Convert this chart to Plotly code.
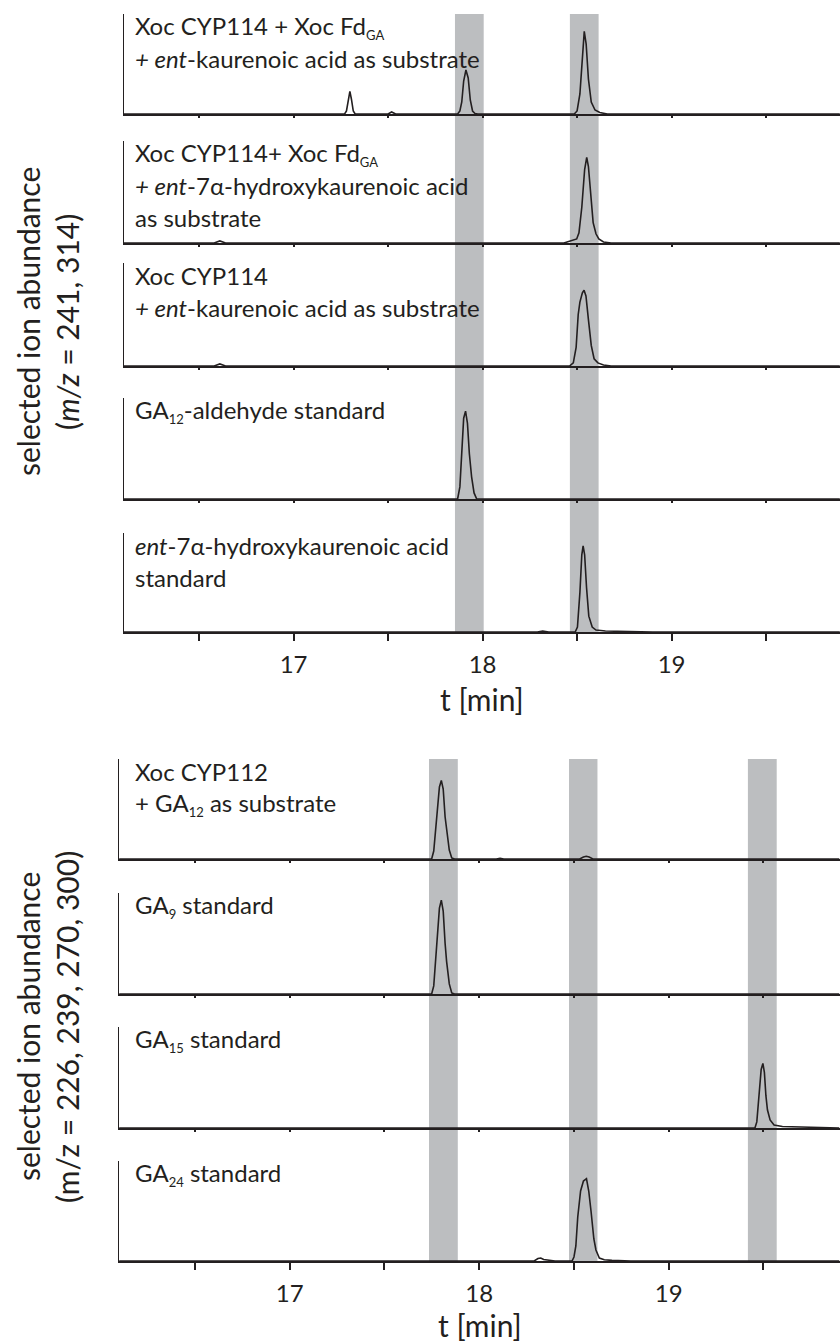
import plotly.graph_objects as go

# ---------------- data ----------------
SUB_OPEN = "<sub><span style='font-size:13px'>"
SUB_CLOSE = "</span></sub>"


def sub(s):
    return SUB_OPEN + s + SUB_CLOSE


# top chart: retention time (min) / relative abundance (selected ions m/z 241, 314)
top_labels = [
    ["Xoc CYP114 + Xoc Fd" + sub("GA"), "<i>+ ent</i>-kaurenoic acid as substrate"],
    ["Xoc CYP114+ Xoc Fd" + sub("GA"), "<i>+ ent</i>-7α-hydroxykaurenoic acid", "as substrate"],
    ["Xoc CYP114", "<i>+ ent</i>-kaurenoic acid as substrate"],
    ["GA" + sub("12") + "-aldehyde standard"],
    ["<i>ent</i>-7α-hydroxykaurenoic acid", "standard"],
]
t_a1 = [16.10, 17.0, 17.27, 17.28, 17.29, 17.298, 17.306, 17.316, 17.326, 17.50, 17.519, 17.54,
        17.868, 17.88, 17.89, 17.90, 17.912, 17.924, 17.935, 17.947, 17.96, 17.975,
        18.485, 18.50, 18.515, 18.528, 18.538, 18.548, 18.56, 18.575, 18.595, 18.62, 18.66, 19.0, 19.89]
y_a1 = [0, 0, 0, 3, 15, 22.6, 15, 3, 0, 0, 2, 0,
        0, 3, 12, 33, 44, 36, 14, 3, 0.5, 0,
        0, 3, 20, 62, 82.6, 70, 35, 12, 4, 1.5, 0, 0, 0]
t_a2 = [16.10, 16.58, 16.61, 16.64, 18.43, 18.46, 18.498, 18.51, 18.525, 18.54, 18.551, 18.56,
        18.572, 18.585, 18.60, 18.615, 18.64, 18.68, 19.89]
y_a2 = [0, 0, 2, 0, 0, 1.5, 4, 10, 35, 72, 84, 75, 45, 20, 9, 4, 1, 0, 0]
t_a3 = [16.10, 16.58, 16.61, 16.64, 18.46, 18.48, 18.495, 18.506, 18.515, 18.528, 18.537, 18.547,
        18.56, 18.575, 18.59, 18.61, 18.64, 18.68, 19.89]
y_a3 = [0, 0, 2, 0, 0, 3, 18, 50, 62, 71, 73.5, 68, 45, 20, 7, 3, 1, 0, 0]
t_a4 = [16.10, 17.868, 17.88, 17.889, 17.90, 17.91, 17.92, 17.93, 17.942, 17.955, 17.969, 19.89]
y_a4 = [0, 0, 12, 48, 80, 87, 75, 45, 22, 6, 0, 0]
t_a5 = [16.10, 18.29, 18.318, 18.35, 18.49, 18.502, 18.515, 18.525, 18.532, 18.54, 18.55, 18.562,
        18.58, 18.60, 18.65, 18.75, 18.9, 19.89]
y_a5 = [0, 0, 1, 0, 0, 5, 40, 78, 87, 78, 45, 16, 5, 2, 1, 0.5, 0, 0]
top_t = [t_a1, t_a2, t_a3, t_a4, t_a5]
top_y = [y_a1, y_a2, y_a3, y_a4, y_a5]
top_bands = [(17.854, 18.006), (18.462, 18.614)]

# bottom chart: selected ions m/z 226, 239, 270, 300
bot_labels = [
    ["Xoc CYP112", "+ GA" + sub("12") + " as substrate"],
    ["GA" + sub("9") + " standard"],
    ["GA" + sub("15") + " standard"],
    ["GA" + sub("24") + " standard"],
]
t_b1 = [16.10, 17.749, 17.76, 17.775, 17.79, 17.80, 17.81, 17.82, 17.828, 17.842, 17.855, 17.87,
        18.09, 18.11, 18.13, 18.53, 18.55, 18.565, 18.58, 18.60, 19.90]
y_b1 = [0, 0, 8, 39, 72, 78.6, 70, 42, 29, 9, 1, 0,
        0, 0.6, 0, 0, 2, 2.7, 2, 0, 0]
t_b2 = [16.10, 17.749, 17.76, 17.775, 17.79, 17.80, 17.81, 17.82, 17.828, 17.842, 17.855, 17.87, 19.90]
y_b2 = [0, 0, 8, 42, 85, 93, 82, 50, 32, 10, 1, 0, 0]
t_b3 = [16.10, 19.455, 19.465, 19.477, 19.488, 19.497, 19.505, 19.513, 19.521, 19.535, 19.556,
        19.60, 19.70, 19.767, 19.78, 19.90]
y_b3 = [0, 0, 6, 34, 58, 64, 55, 32, 18, 8, 3, 1.5, 1, 0.8, 0, 0]
t_b4 = [16.10, 18.29, 18.31, 18.325, 18.34, 18.37, 18.40, 18.49, 18.50, 18.51, 18.52, 18.535, 18.55,
        18.566, 18.578, 18.59, 18.605, 18.616, 18.634, 18.66, 18.70, 18.80, 19.90]
y_b4 = [0, 0, 2.5, 3, 1.5, 0.5, 0, 0, 4, 15, 44, 70, 80, 82.3, 70, 50, 22, 11, 3, 1.2, 0.6, 0, 0]
bot_t = [t_b1, t_b2, t_b3, t_b4]
bot_y = [y_b1, y_b2, y_b3, y_b4]
bot_bands = [(17.735, 17.887), (18.474, 18.624), (19.418, 19.570)]

major_ticks = [17, 18, 19]
major_text = ["17", "18", "19"]
minor_ticks = [16.5, 17.5, 18.5, 19.5]

# ---------------- layout constants ----------------
W, H = 840, 1342
FONT = "Lato"
INK = "#231f20"
BAND = "#bcbec0"
LAB = 24
TICK = 24
TITLE = 30

top_px = [(14, 114), (141, 243), (263, 366), (398, 499), (533, 632)]
bot_px = [(759, 859), (893, 994), (1027, 1128), (1161, 1261)]
top_x = dict(range=[16.103, 19.891], left=124)
bot_x = dict(range=[16.099, 19.904], left=119)


def py(px):
    return 1 - px / H


fig = go.Figure()
layout = dict(width=W, height=H, margin=dict(l=0, r=0, t=0, b=0),
              paper_bgcolor="white", plot_bgcolor="rgba(0,0,0,0)",
              showlegend=False, font=dict(family=FONT, color=INK, size=LAB))
annotations = []
shapes = []

panels = []
for i, (tp, bp) in enumerate(top_px):
    panels.append(dict(t=top_t[i], y=top_y[i], px=(tp, bp), xs=top_x,
                       last=(i == len(top_px) - 1), labels=top_labels[i]))
for i, (tp, bp) in enumerate(bot_px):
    panels.append(dict(t=bot_t[i], y=bot_y[i], px=(tp, bp), xs=bot_x,
                       last=(i == len(bot_px) - 1), labels=bot_labels[i]))

for k, p in enumerate(panels, start=1):
    xa = "x" if k == 1 else f"x{k}"
    ya = "y" if k == 1 else f"y{k}"
    fig.add_trace(go.Scatter(x=p["t"], y=p["y"], mode="lines", xaxis=xa, yaxis=ya,
                             line=dict(color=INK, width=1.6), hoverinfo="skip"))
    tp, bp = p["px"]
    xs = p["xs"]
    tl = 7 if p["last"] else 2
    layout["xaxis" if k == 1 else f"xaxis{k}"] = dict(
        domain=[xs["left"] / W, 1], range=xs["range"], anchor=ya,
        showline=True, linecolor=INK, linewidth=1.6, showgrid=False, zeroline=False,
        tickmode="array", tickvals=major_ticks, ticktext=major_text,
        ticks="outside", ticklen=tl, tickwidth=1.5, tickcolor=INK,
        minor=dict(tickmode="array", tickvals=minor_ticks, ticks="outside", ticklen=tl,
                   tickwidth=1.5, tickcolor=INK, showgrid=False),
        showticklabels=p["last"], tickfont=dict(family=FONT, size=TICK, color=INK),
        ticklabelstandoff=3, fixedrange=True)
    layout["yaxis" if k == 1 else f"yaxis{k}"] = dict(
        domain=[py(bp), py(tp)], range=[0, 100], anchor=xa,
        showline=True, linecolor=INK, linewidth=1.2, showgrid=False, zeroline=False,
        showticklabels=False, ticks="", fixedrange=True)
    for j, line in enumerate(p["labels"]):
        base = tp + 21.5 + 32 * j
        shift = 1.0 if "<sub>" in line else 0
        annotations.append(dict(text=line, xref="paper", yref="paper", x=133 / W,
                                y=py(base - 0.387 * LAB + shift), xanchor="left", yanchor="middle",
                                showarrow=False, font=dict(family=FONT, size=LAB, color=INK)))

# shaded retention windows
for a, b in top_bands:
    shapes.append(dict(type="rect", xref="x", yref="paper", x0=a, x1=b,
                       y0=py(top_px[-1][1]), y1=py(top_px[0][0]),
                       fillcolor=BAND, line=dict(width=0), layer="below"))
for a, b in bot_bands:
    shapes.append(dict(type="rect", xref=f"x{len(top_px) + 1}", yref="paper", x0=a, x1=b,
                       y0=py(bot_px[-1][1]), y1=py(bot_px[0][0]),
                       fillcolor=BAND, line=dict(width=0), layer="below"))

# axis titles
tfont = dict(family=FONT, size=TITLE, color=INK)
annotations.append(dict(text="t [min]", xref="paper", yref="paper", x=(124 + W) / 2 / W, y=py(699),
                        xanchor="center", yanchor="middle", showarrow=False, font=tfont))
annotations.append(dict(text="t [min]", xref="paper", yref="paper", x=(119 + W) / 2 / W, y=py(1325),
                        xanchor="center", yanchor="middle", showarrow=False, font=tfont))
for txt, xc, yc in [("selected ion abundance", 28, 322), ("(<i>m/z</i> = 241, 314)", 67, 322),
                    ("selected ion abundance", 28, 1027), ("(m/z = 226, 239, 270, 300)", 67, 1027)]:
    annotations.append(dict(text=txt, xref="paper", yref="paper", x=xc / W, y=py(yc),
                            xanchor="center", yanchor="middle", textangle=-90,
                            showarrow=False, font=tfont))

layout["annotations"] = annotations
layout["shapes"] = shapes
fig.update_layout(**layout)
fig.write_html("out.html", config={"displayModeBar": False},
               post_script="document.body.style.margin='0';document.body.style.overflow='hidden';")
